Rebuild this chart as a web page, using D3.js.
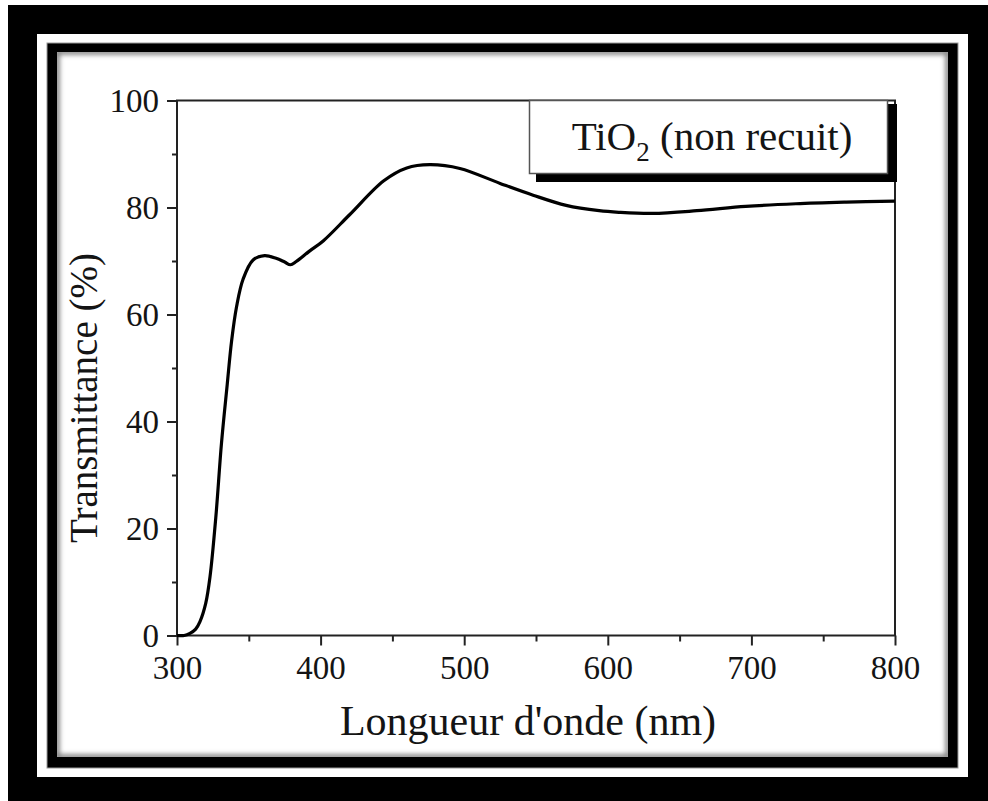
<!DOCTYPE html>
<html>
<head>
<meta charset="utf-8">
<script src="https://cdn.jsdelivr.net/npm/d3@7/dist/d3.min.js"></script>
<style>
  html, body { margin: 0; padding: 0; background: #fff; }
  svg { display: block; }
  text { font-family: "Liberation Serif", "Times New Roman", serif; fill: #141414; }
</style>
</head>
<body>
<svg id="chart" width="988" height="801"></svg>
<script>
// Transmission spectrum of an unannealed TiO2 film
const wavelength = [300, 305, 309, 313, 316, 320, 323, 327, 331, 335, 338, 341.5, 346, 353, 361, 369, 375, 379, 383, 392, 402, 420, 444, 460, 476, 497, 525, 548, 571, 594, 608, 631, 662, 696, 731, 766, 800];
const transmittance = [0, 0, 0.4, 1.2, 2.6, 6, 11, 22, 36, 47, 55, 61.5, 66.6, 70.2, 71.0, 70.5, 69.8, 69.3, 69.9, 71.8, 73.8, 78.6, 85.0, 87.4, 88.0, 87.3, 84.5, 82.3, 80.4, 79.4, 79.1, 78.9, 79.4, 80.2, 80.7, 81.0, 81.2];
const xTicks = [300, 400, 500, 600, 700, 800];
const yTicks = [0, 20, 40, 60, 80, 100];
const xLabel = "Longueur d'onde (nm)";
const yLabel = "Transmittance (%)";
const legendMain = "TiO";
const legendSub = "2";
const legendRest = " (non recuit)";

const svg = d3.select("#chart");

// ---- decorative frame ----
const defs = svg.append("defs");
const blur = defs.append("filter").attr("id", "soft").attr("x", "-5%").attr("y", "-5%").attr("width", "110%").attr("height", "110%");
blur.append("feGaussianBlur").attr("stdDeviation", 2.5);
defs.append("clipPath").attr("id", "innerClip")
  .append("rect").attr("x", 57).attr("y", 52).attr("width", 891).attr("height", 705);

svg.append("rect").attr("x", 8).attr("y", 5).attr("width", 980).attr("height", 796).attr("fill", "#000");
svg.append("rect").attr("x", 37).attr("y", 34).attr("width", 931).attr("height", 743).attr("fill", "#fff");
svg.append("rect").attr("x", 47).attr("y", 43).attr("width", 911).attr("height", 725).attr("fill", "#000")
  .attr("stroke", "#999").attr("stroke-width", 1);
svg.append("rect").attr("x", 57).attr("y", 52).attr("width", 891).attr("height", 705).attr("fill", "#fff");
svg.append("g").attr("clip-path", "url(#innerClip)")
  .append("rect").attr("x", 57).attr("y", 52).attr("width", 891).attr("height", 705)
  .attr("fill", "none").attr("stroke", "#777").attr("stroke-width", 5).attr("filter", "url(#soft)");

// ---- plot ----
const x0 = 177, x1 = 895, y0 = 635.5, y1 = 100.5;
const x = d3.scaleLinear().domain([300, 800]).range([x0, x1]);
const y = d3.scaleLinear().domain([0, 100]).range([y0, y1]);

const axisColor = "#222";

// bottom axis
const gx = svg.append("g").attr("transform", `translate(0,${y0})`)
  .call(d3.axisBottom(x).tickValues(xTicks).tickSize(10).tickPadding(10).tickFormat(d3.format("d")));
gx.append("g").call(d3.axisBottom(x).tickValues(d3.range(350, 800, 100)).tickSize(6).tickFormat(""));
// left axis
const gy = svg.append("g").attr("transform", `translate(${x0},0)`)
  .call(d3.axisLeft(y).tickValues(yTicks).tickSize(10).tickPadding(8).tickFormat(d3.format("d")));
gy.append("g").call(d3.axisLeft(y).tickValues(d3.range(10, 100, 20)).tickSize(5).tickFormat(""));

[gx, gy].forEach(g => {
  g.selectAll(".domain").remove();
  g.selectAll("line").attr("stroke", axisColor).attr("stroke-width", 2);
  g.selectAll("text").style("font-family", "Liberation Serif, serif").style("font-size", "33px").attr("fill", "#141414");
});
gx.selectAll(".tick text").attr("dy", "0.72em");
gy.selectAll(".tick text").attr("dy", "0.34em");

// frame box
svg.append("rect").attr("x", x0).attr("y", y1).attr("width", x1 - x0).attr("height", y0 - y1)
  .attr("fill", "none").attr("stroke", axisColor).attr("stroke-width", 2);

// spectrum curve
const line = d3.line().x((d, i) => x(wavelength[i])).y(d => y(d)).curve(d3.curveCatmullRom.alpha(0.5));
svg.append("path").datum(transmittance).attr("d", line)
  .attr("fill", "none").attr("stroke", "#000").attr("stroke-width", 3.2).attr("stroke-linejoin", "round");

// legend box with shadow
svg.append("rect").attr("x", 536).attr("y", 104).attr("width", 361).attr("height", 78).attr("fill", "#000");
svg.append("rect").attr("x", 529.5).attr("y", 100.5).attr("width", 358).attr("height", 73)
  .attr("fill", "#fff").attr("stroke", "#555").attr("stroke-width", 1.5);
const lt = svg.append("text").attr("x", 712).attr("y", 150).attr("text-anchor", "middle")
  .style("font-size", "41px");
lt.append("tspan").text(legendMain);
lt.append("tspan").attr("dy", 11).style("font-size", "27px").text(legendSub);
lt.append("tspan").attr("dy", -11).text(legendRest);

// axis titles
svg.append("text").attr("x", 528).attr("y", 735).attr("text-anchor", "middle")
  .style("font-size", "42px").text(xLabel);
svg.append("text").attr("transform", `translate(97,${(y0 + y1) / 2 + 30}) rotate(-90)`)
  .attr("text-anchor", "middle").style("font-size", "39px").text(yLabel);
</script>
</body>
</html>
